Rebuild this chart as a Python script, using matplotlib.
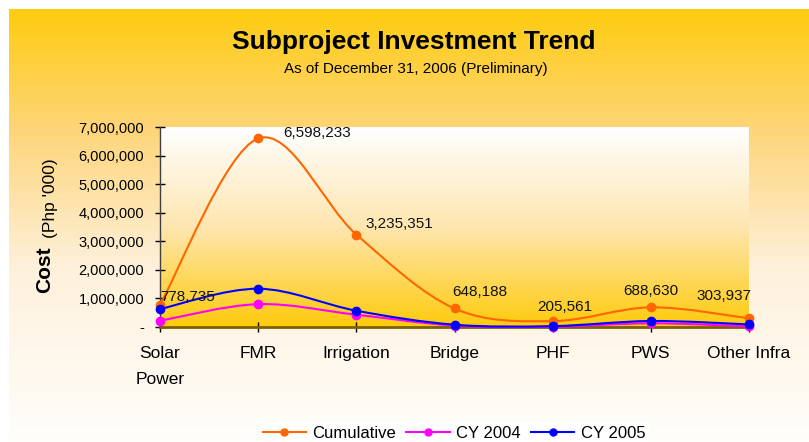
import numpy as np
import matplotlib
matplotlib.use("Agg")
import matplotlib.pyplot as plt
from matplotlib.colors import LinearSegmentedColormap
from matplotlib.path import Path
from matplotlib.patches import PathPatch
from matplotlib.lines import Line2D
from matplotlib.ticker import FuncFormatter

plt.rcParams["font.family"] = ["Liberation Sans", "DejaVu Sans"]

# data (Php '000)
categories = ["Solar\nPower", "FMR", "Irrigation", "Bridge", "PHF", "PWS", "Other Infra"]
cumulative = [778735, 6598233, 3235351, 648188, 205561, 688630, 303937]
cy2004 = [220000, 800000, 430000, 50000, 10000, 130000, 20000]
cy2005 = [630000, 1340000, 570000, 80000, 30000, 210000, 90000]
series_names = ["Cumulative", "CY 2004", "CY 2005"]
series_colors = ["#FF6600", "#FF00FF", "#0000FF"]
y_ticks = [0, 1000000, 2000000, 3000000, 4000000, 5000000, 6000000, 7000000]

# label offsets in pixels (dx, dy) for the cumulative data labels
label_offsets = [(28, 8), (59, 5), (43, 11), (25, 16), (12, 14), (0, 16), (-25, 22)]


def smooth_path(xs, ys):
    # Catmull-Rom style bezier, like spreadsheet "smoothed line"
    pts = np.column_stack([xs, ys]).astype(float)
    n = len(pts)
    verts = [pts[0]]
    codes = [Path.MOVETO]
    for i in range(n - 1):
        p0 = pts[i - 1] if i > 0 else pts[i]
        p1 = pts[i]
        p2 = pts[i + 1]
        p3 = pts[i + 2] if i + 2 < n else pts[i + 1]
        c1 = p1 + (p2 - p0) / 6.0
        c2 = p2 - (p3 - p1) / 6.0
        verts += [c1, c2, p2]
        codes += [Path.CURVE4] * 3
    return Path(verts, codes)


W, H = 809, 442
fig = plt.figure(figsize=(W / 100, H / 100), dpi=100)
fig.patch.set_facecolor("white")

# chart area gradient background
bg = fig.add_axes([9 / W, 0, 1 - 9 / W, 1 - 9 / H], zorder=0)
bg_cmap = LinearSegmentedColormap.from_list(
    "bg", [(0, "#FFCC0F"), (0.28, "#FDD57A"), (0.6, "#FEF1DC"), (1, "#FFFEFB")])
bg.imshow(np.linspace(0, 1, 256).reshape(-1, 1), aspect="auto", cmap=bg_cmap,
          extent=[0, 1, 0, 1], origin="upper")
bg.set_axis_off()

# plot area
ax = fig.add_axes([160 / W, 1 - 327 / H, 589 / W, 200 / H], zorder=1)
x = np.arange(len(categories))
ax.set_xlim(0, len(categories) - 1)
ax.set_ylim(0, 7000000)

pa_cmap = LinearSegmentedColormap.from_list(
    "pa", [(0, "#FFFFFF"), (0.5, "#FEE6B0"), (1, "#FFCB0C")])
ax.imshow(np.linspace(0, 1, 256).reshape(-1, 1), aspect="auto", cmap=pa_cmap,
          extent=[0, len(categories) - 1, 0, 7000000], origin="upper", zorder=0)

handles = []
for vals, name, col in zip([cumulative, cy2004, cy2005], series_names, series_colors):
    ax.add_patch(PathPatch(smooth_path(x, vals), facecolor="none", edgecolor=col,
                           lw=1.5, zorder=3, clip_on=False))
    ax.plot(x, vals, "o", color=col, ms=6, zorder=4, clip_on=False)
    handles.append(Line2D([], [], color=col, lw=1.5, marker="o", ms=5))

for xi, v, (dx, dy) in zip(x, cumulative, label_offsets):
    ax.annotate(f"{v:,}", (xi, v), xytext=(dx, dy), textcoords="offset pixels",
                ha="center", va="center", fontsize=11, color="#111111", zorder=5)

ax.set_xticks(x)
ax.set_xticklabels(categories, fontsize=12.5, linespacing=1.9, va="top")
ax.set_yticks(y_ticks)
ax.yaxis.set_major_formatter(FuncFormatter(lambda v, p: "-" if v == 0 else f"{int(v):,}"))
ax.tick_params(axis="y", direction="inout", length=7, width=1, labelsize=10.5, pad=8)
ax.tick_params(axis="x", direction="inout", length=7, width=1, pad=10)

for s in ["top", "right"]:
    ax.spines[s].set_visible(False)
ax.spines["left"].set_color("#404040")
ax.spines["left"].set_linewidth(1)
ax.spines["bottom"].set_color("#7F6000")
ax.spines["bottom"].set_linewidth(2)

# titles
fig.text(414 / W, 1 - 42 / H, "Subproject Investment Trend", ha="center", va="center",
         fontsize=19, fontweight="bold")
fig.text(416 / W, 1 - 69 / H, "As of December 31, 2006 (Preliminary)", ha="center",
         va="center", fontsize=11)

# y axis title
fig.text(45 / W, 1 - 270 / H, "Cost", rotation=90, ha="center", va="center",
         fontsize=15, fontweight="bold")
fig.text(50 / W, 1 - 198 / H, "(Php '000)", rotation=90, ha="center", va="center",
         fontsize=12.5)

leg = fig.legend(handles, series_names, loc="upper center", ncol=3,
                 bbox_to_anchor=(454 / W, 1 - 414 / H), fontsize=12,
                 frameon=True, fancybox=False, facecolor="white", edgecolor="none",
                 framealpha=1, handlelength=2.6, handletextpad=0.4,
                 columnspacing=0.6, borderpad=0.2)

fig.savefig("out.png", dpi=100)
